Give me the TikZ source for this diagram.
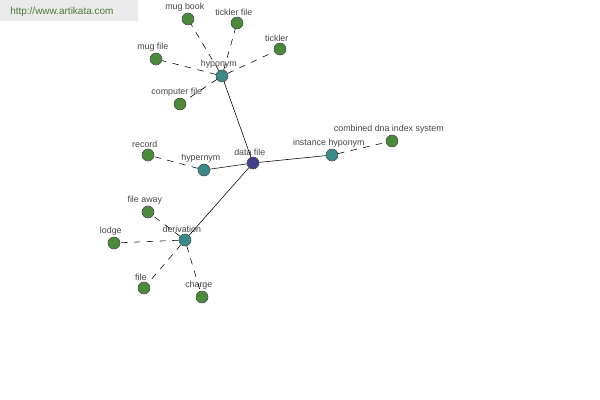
\documentclass[tikz,border=0pt]{standalone}
\usepackage{fontspec}
\setmainfont{Liberation Sans}
\usetikzlibrary{positioning}

\definecolor{hubcol}{RGB}{62,62,140}
\definecolor{relcol}{RGB}{58,138,138}
\definecolor{wordcol}{RGB}{74,138,58}
\definecolor{txtcol}{RGB}{70,70,70}
\definecolor{markcol}{RGB}{76,120,52}

\tikzset{
  word/.style={circle,draw=black!70,line width=0.4pt,fill=wordcol,minimum size=0.3cm,inner sep=0pt,
    label={[lbl]above:#1}},
  rel/.style={word=#1,fill=relcol},
  hub/.style={word=#1,fill=hubcol},
  lbl/.style={text=txtcol,font=\fontsize{6.3}{7}\selectfont,inner sep=0pt,xshift=-0.08cm,label distance=0.03cm},
  link/.style={draw=black,line width=0.4pt},
  dlink/.style={draw=black,line width=0.4pt,dash pattern=on 0.16cm off 0.16cm}
}

\begin{document}
\begin{tikzpicture}[x=0.025cm,y=-0.025cm]

\useasboundingbox[fill=white] (0,0) rectangle (600,400);

% site mark
\fill[black!8] (0,0) rectangle (138,21);
\node[anchor=base west,inner sep=0pt,text=markcol,font=\fontsize{7.1}{8}\selectfont] (site) at (10,15) {http://www.artikata.com};

% centre and relations
\node[hub=data file] (dataf) at (253,163) {};
\node[rel=hyponym] (hypo) at (222,76) {};
\node[rel=hypernym] (hyper) at (204,170) {};
\node[rel=instance hyponym] (inst) at (332,155) {};
\node[rel=derivation] (deriv) at (185,240) {};

% words
\node[word=mug book] (mugbook) at (188,19) {};
\node[word=tickler file] (ticklerf) at (237,23) {};
\node[word=tickler] (tickler) at (280,49) {};
\node[word=mug file] (mugfile) at (156,59) {};
\node[word=computer file] (compfile) at (180,104) {};
\node[word=record] (record) at (148,155) {};
\node[word=combined dna index system] (codis) at (392,141) {};
\node[word=file away] (fileaway) at (148,212) {};
\node[word=lodge] (lodge) at (114,243) {};
\node[word=file] (file) at (144,288) {};
\node[word=charge] (charge) at (202,297) {};

% links
\path[link] (dataf) -- (hypo);
\path[link] (dataf) -- (hyper);
\path[link] (dataf) -- (inst);
\path[link] (dataf) -- (deriv);

\foreach \w in {mugbook,ticklerf,tickler,mugfile,compfile}
  \path[dlink] (hypo) -- (\w);
\path[dlink] (hyper) -- (record);
\path[dlink] (inst) -- (codis);
\foreach \w in {fileaway,lodge,file,charge}
  \path[dlink] (deriv) -- (\w);

\end{tikzpicture}
\end{document}
